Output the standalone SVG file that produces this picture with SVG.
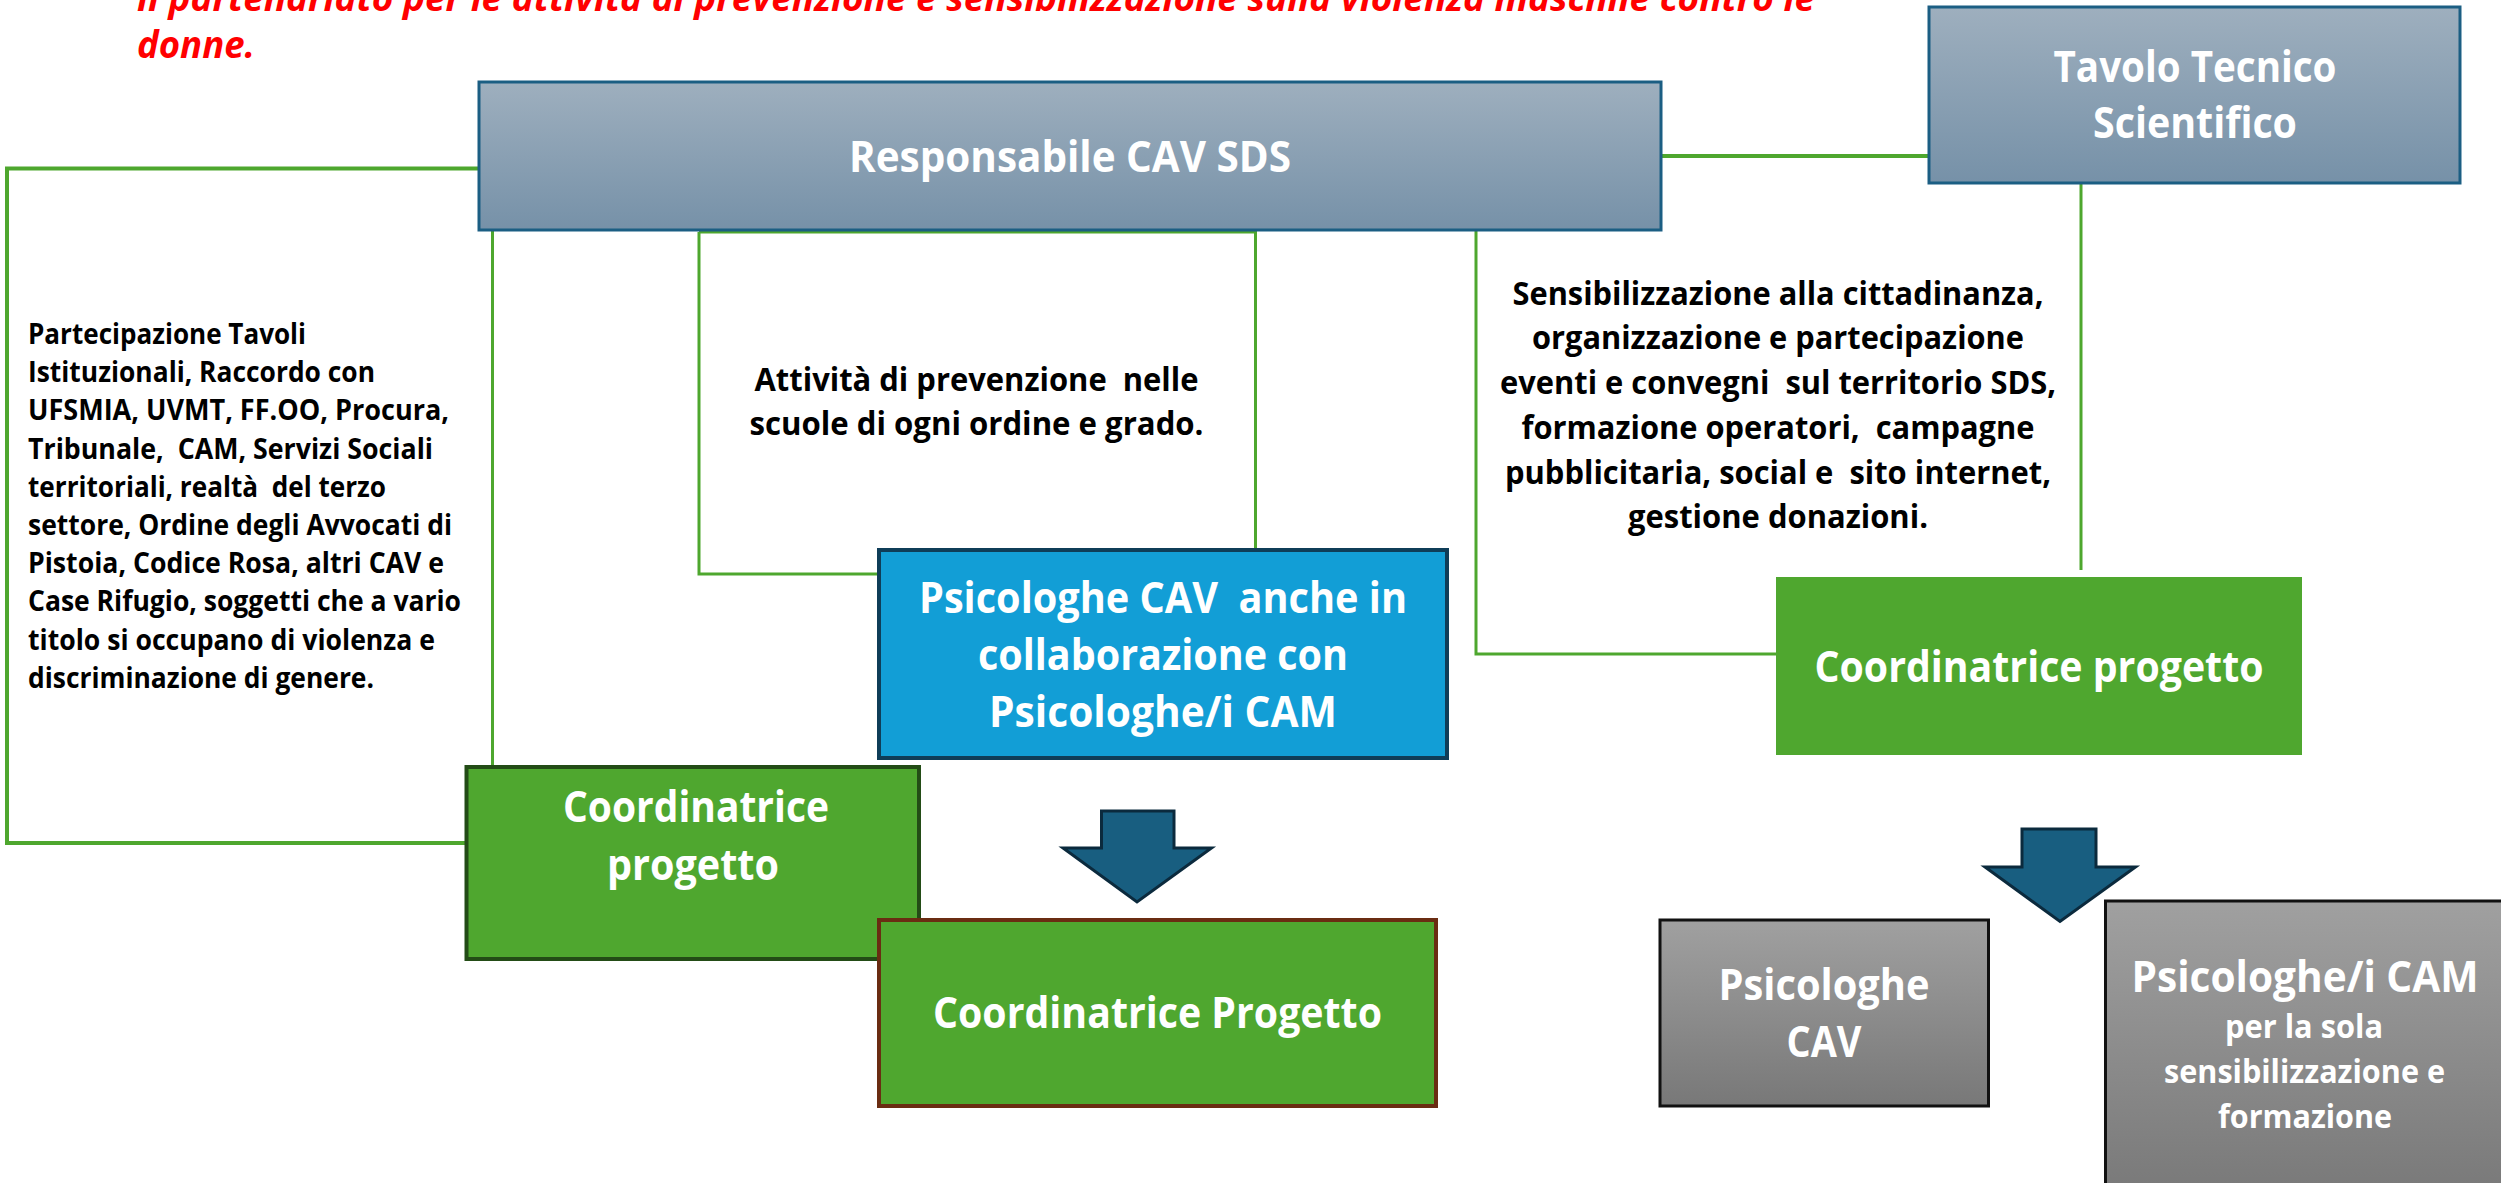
<svg xmlns="http://www.w3.org/2000/svg" width="2501" height="1183" viewBox="0 0 2501 1183">
<style>
text{font-family:"Open Sans","Noto Sans","Liberation Sans",sans-serif;font-weight:bold;white-space:pre}
.w{fill:#ffffff;text-anchor:middle}
.k{fill:#000000}
.kc{fill:#000000;text-anchor:middle}
.t40{font-size:43px}
.t31{font-size:33px}
.conn{fill:none;stroke:#4EA72E;stroke-width:3}
.thick{stroke-width:4}
.bluegrey{fill:url(#gBlue);stroke:#1B5E83;stroke-width:3}
.green{fill:#4FA72F}
.grey{fill:url(#gGrey);stroke:#111111;stroke-width:3}
.arrow{fill:#185E80;stroke:#0B2A3D;stroke-width:3;stroke-linejoin:miter}
</style>
<defs>
<linearGradient id="gBlue" x1="0" y1="0" x2="0" y2="1">
<stop offset="0" stop-color="#9EAFBE"/>
<stop offset="1" stop-color="#7691A8"/>
</linearGradient>
<linearGradient id="gGrey" x1="0" y1="0" x2="0" y2="1">
<stop offset="0" stop-color="#A0A0A0"/>
<stop offset="1" stop-color="#787878"/>
</linearGradient>
</defs>
<rect width="2501" height="1183" fill="#ffffff"/>

<g id="title" font-style="italic" fill="#FF0000">
<text x="137" y="11" font-size="36" style="fill:#FF0000;font-style:italic" textLength="1678" lengthAdjust="spacingAndGlyphs">il partenariato per le attività di prevenzione e sensibilizzazione sulla violenza maschile contro le</text>
<text x="137" y="58" font-size="37" style="fill:#FF0000;font-style:italic" textLength="118" lengthAdjust="spacingAndGlyphs">donne.</text>
</g>

<g id="connectors">
<path class="conn thick" d="M479,168.5 H7 V843 H466"/>
<path class="conn" d="M492.5,230 V767"/>
<path class="conn" d="M699,232 H1255.5 V550"/>
<path class="conn" d="M699,232 V574 H879"/>
<path class="conn" d="M1476,230 V654 H1776"/>
<path class="conn thick" d="M1661,156 H1929"/>
<path class="conn" d="M2081,183 V570"/>
</g>

<g id="label-left">
<text class="k" font-size="29" x="28" y="344" textLength="278" lengthAdjust="spacingAndGlyphs">Partecipazione Tavoli</text>
<text class="k" font-size="29" x="28" y="382.2" textLength="347" lengthAdjust="spacingAndGlyphs">Istituzionali, Raccordo con</text>
<text class="k" font-size="29" x="28" y="420.4" textLength="421" lengthAdjust="spacingAndGlyphs">UFSMIA, UVMT, FF.OO, Procura,</text>
<text class="k" font-size="29" x="28" y="458.6" textLength="405" lengthAdjust="spacingAndGlyphs">Tribunale,  CAM, Servizi Sociali</text>
<text class="k" font-size="29" x="28" y="496.8" textLength="358" lengthAdjust="spacingAndGlyphs">territoriali, realtà  del terzo</text>
<text class="k" font-size="29" x="28" y="535" textLength="424" lengthAdjust="spacingAndGlyphs">settore, Ordine degli Avvocati di</text>
<text class="k" font-size="29" x="28" y="573.2" textLength="416" lengthAdjust="spacingAndGlyphs">Pistoia, Codice Rosa, altri CAV e</text>
<text class="k" font-size="29" x="28" y="611.4" textLength="433" lengthAdjust="spacingAndGlyphs">Case Rifugio, soggetti che a vario</text>
<text class="k" font-size="29" x="28" y="649.6" textLength="407" lengthAdjust="spacingAndGlyphs">titolo si occupano di violenza e</text>
<text class="k" font-size="29" x="28" y="687.8" textLength="346" lengthAdjust="spacingAndGlyphs">discriminazione di genere.</text>
</g>

<g id="label-scuole">
<text class="kc" font-size="32" x="976.5" y="391" textLength="444" lengthAdjust="spacingAndGlyphs">Attività di prevenzione  nelle</text>
<text class="kc" font-size="32" x="976.5" y="435" textLength="454" lengthAdjust="spacingAndGlyphs">scuole di ogni ordine e grado.</text>
</g>

<g id="label-sensibilizzazione">
<text class="kc" font-size="33" x="1778" y="305" textLength="531" lengthAdjust="spacingAndGlyphs">Sensibilizzazione alla cittadinanza,</text>
<text class="kc" font-size="33" x="1778" y="349" textLength="492" lengthAdjust="spacingAndGlyphs">organizzazione e partecipazione</text>
<text class="kc" font-size="33" x="1778" y="394" textLength="556" lengthAdjust="spacingAndGlyphs">eventi e convegni  sul territorio SDS,</text>
<text class="kc" font-size="33" x="1778" y="439" textLength="513" lengthAdjust="spacingAndGlyphs">formazione operatori,  campagne</text>
<text class="kc" font-size="33" x="1778" y="484" textLength="546" lengthAdjust="spacingAndGlyphs">pubblicitaria, social e  sito internet,</text>
<text class="kc" font-size="33" x="1778" y="528" textLength="300" lengthAdjust="spacingAndGlyphs">gestione donazioni.</text>
</g>

<g id="node-responsabile">
<rect class="bluegrey" x="479" y="82" width="1182" height="148"/>
<text class="w t40" x="1070" y="172" textLength="442" lengthAdjust="spacingAndGlyphs">Responsabile CAV SDS</text>
</g>

<g id="node-tavolo">
<rect class="bluegrey" x="1929" y="7" width="531" height="176"/>
<text class="w t40" x="2195" y="82" textLength="283" lengthAdjust="spacingAndGlyphs">Tavolo Tecnico</text>
<text class="w t40" x="2195" y="138" textLength="204" lengthAdjust="spacingAndGlyphs">Scientifico</text>
</g>

<g id="node-psicologhe-cav-cam">
<rect x="879" y="550" width="568" height="208" fill="#129ED6" stroke="#0F3D58" stroke-width="4"/>
<text class="w t40" x="1163" y="613" textLength="488" lengthAdjust="spacingAndGlyphs">Psicologhe CAV  anche in</text>
<text class="w t40" x="1163" y="670" textLength="370" lengthAdjust="spacingAndGlyphs">collaborazione con</text>
<text class="w t40" x="1163" y="727" textLength="348" lengthAdjust="spacingAndGlyphs">Psicologhe/i CAM</text>
</g>

<g id="node-coordinatrice-left">
<rect class="green" x="466.5" y="767" width="452.5" height="192" stroke="#234C16" stroke-width="4"/>
<text class="w t40" x="696" y="822" textLength="266" lengthAdjust="spacingAndGlyphs">Coordinatrice</text>
<text class="w t40" x="693" y="880" textLength="172" lengthAdjust="spacingAndGlyphs">progetto</text>
</g>

<g id="node-coordinatrice-bottom">
<rect class="green" x="879" y="920" width="557" height="186" stroke="#6A2C12" stroke-width="4"/>
<text class="w t40" x="1157.5" y="1028" textLength="449" lengthAdjust="spacingAndGlyphs">Coordinatrice Progetto</text>
</g>

<g id="node-coordinatrice-right">
<rect class="green" x="1776" y="577" width="526" height="178"/>
<text class="w t40" x="2039" y="682" textLength="449" lengthAdjust="spacingAndGlyphs">Coordinatrice progetto</text>
</g>

<g id="arrow-left">
<polygon class="arrow" points="1101.5,811 1174,811 1174,848 1211.5,848 1137,902 1063,848 1101.5,848"/>
</g>

<g id="arrow-right">
<polygon class="arrow" points="2022,829 2096,829 2096,867 2135.5,867 2060,921.5 1985,867 2022,867"/>
</g>

<g id="node-psicologhe-cav">
<rect class="grey" x="1660" y="920" width="328.5" height="186"/>
<text class="w t40" x="1824" y="1000" textLength="211" lengthAdjust="spacingAndGlyphs">Psicologhe</text>
<text class="w t40" x="1824" y="1057" textLength="75" lengthAdjust="spacingAndGlyphs">CAV</text>
</g>

<g id="node-psicologhe-cam">
<rect class="grey" x="2105.5" y="901" width="420" height="300"/>
<text class="w t40" x="2305" y="992" textLength="347" lengthAdjust="spacingAndGlyphs">Psicologhe/i CAM</text>
<text class="w t31" x="2304" y="1038" textLength="158" lengthAdjust="spacingAndGlyphs">per la sola</text>
<text class="w t31" x="2304.5" y="1083" textLength="281" lengthAdjust="spacingAndGlyphs">sensibilizzazione e</text>
<text class="w t31" x="2305" y="1128" textLength="174" lengthAdjust="spacingAndGlyphs">formazione</text>
</g>
</svg>
